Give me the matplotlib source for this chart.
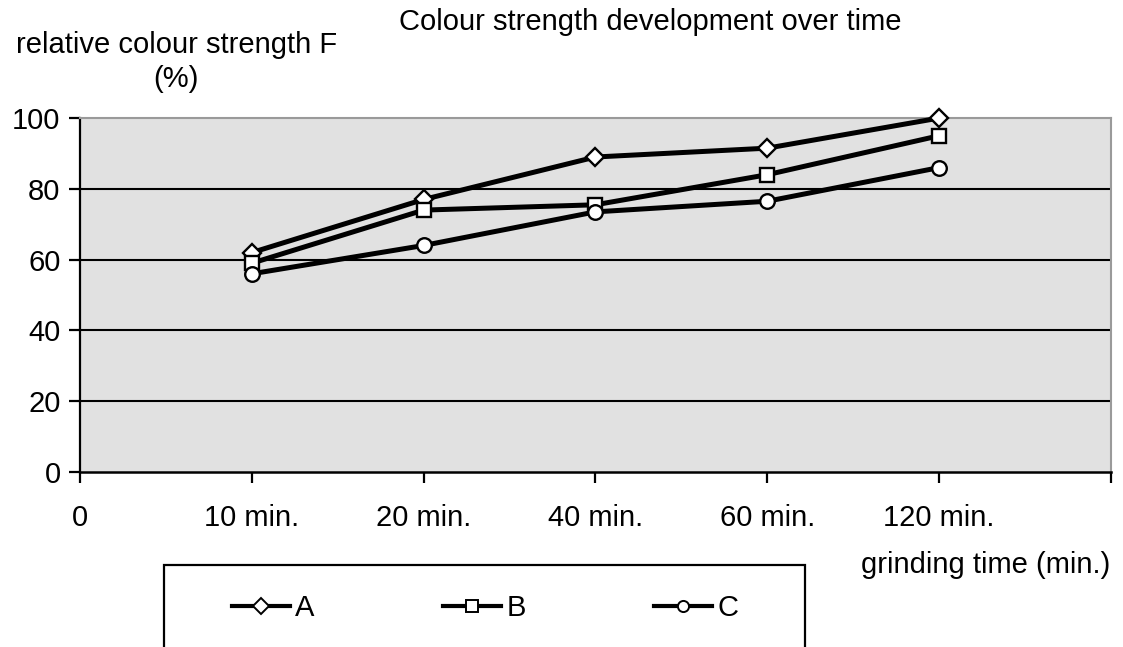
import matplotlib.pyplot as plt
from matplotlib.lines import Line2D
from matplotlib.patches import Rectangle

plt.rcParams['font.family'] = ['Liberation Sans', 'DejaVu Sans']

# grinding times (category axis) and relative colour strength values (%)
kategori = ["10 min.", "20 min.", "40 min.", "60 min.", "120 min."]
label_x = ["0"] + kategori + [""]
seri_a = [62, 77, 89, 91.5, 100]
seri_b = [59, 74, 75.5, 84, 95]
seri_c = [56, 64, 73.5, 76.5, 86]

seri = [("A", seri_a, "D", 9.5), ("B", seri_b, "s", 9.5), ("C", seri_c, "o", 10.5)]

fig = plt.figure(figsize=(11.23, 6.47), dpi=100)
ax = fig.add_axes([0.0712, 0.2705, 0.918, 0.547])
ax.set_facecolor("#e1e1e1")

posisi = list(range(1, len(kategori) + 1))
for nama, nilai, mk, ms in seri:
    ax.plot(posisi, nilai, color="black", lw=3.6, marker=mk, ms=ms,
            mfc="white", mec="black", mew=1.7, zorder=3, clip_on=False)

ax.set_xlim(0, len(kategori) + 1)
ax.set_ylim(0, 100)
ax.set_xticks(range(len(label_x)))
ax.set_xticklabels(label_x, fontsize=21)
ax.set_yticks([0, 20, 40, 60, 80, 100])
ax.set_yticklabels(["0", "20", "40", "60", "80", "100"], fontsize=21)
ax.tick_params(axis="x", direction="out", length=8, width=1.6, pad=15)
ax.tick_params(axis="y", direction="out", length=8, width=1.6, pad=6)

for g in [20, 40, 60, 80]:
    ax.axhline(g, color="black", lw=1.5, zorder=1)

ax.spines["left"].set_linewidth(1.6)
ax.spines["bottom"].set_linewidth(1.8)
ax.spines["top"].set_color("#9a9a9a")
ax.spines["right"].set_color("#9a9a9a")
ax.spines["top"].set_linewidth(1.5)
ax.spines["right"].set_linewidth(1.5)

fig.text(0.579, 0.966, "Colour strength development over time", fontsize=21,
         ha="center", va="center")
fig.text(0.157, 0.904, "relative colour strength F\n(%)", fontsize=21,
         ha="center", va="center", linespacing=1.3)
fig.text(0.989, 0.127, "grinding time (min.)", fontsize=21,
         ha="right", va="center")

# legend box
fig.patches.append(Rectangle((0.146, -0.05), 0.571, 0.176, transform=fig.transFigure,
                             facecolor="white", edgecolor="black", lw=1.6, zorder=0))
handles = [Line2D([], [], color="black", lw=3.0, marker=mk, ms=8,
                  mfc="white", mec="black", mew=1.4) for _, _, mk, _ in seri]
fig.legend(handles, [s[0] for s in seri], ncol=3, frameon=False, fontsize=21,
           loc="center left", bbox_to_anchor=(0.2066, 0.06), borderpad=0,
           borderaxespad=0, handlelength=2.0, handletextpad=0.17,
           columnspacing=4.4)

fig.savefig("out.png", dpi=100)
